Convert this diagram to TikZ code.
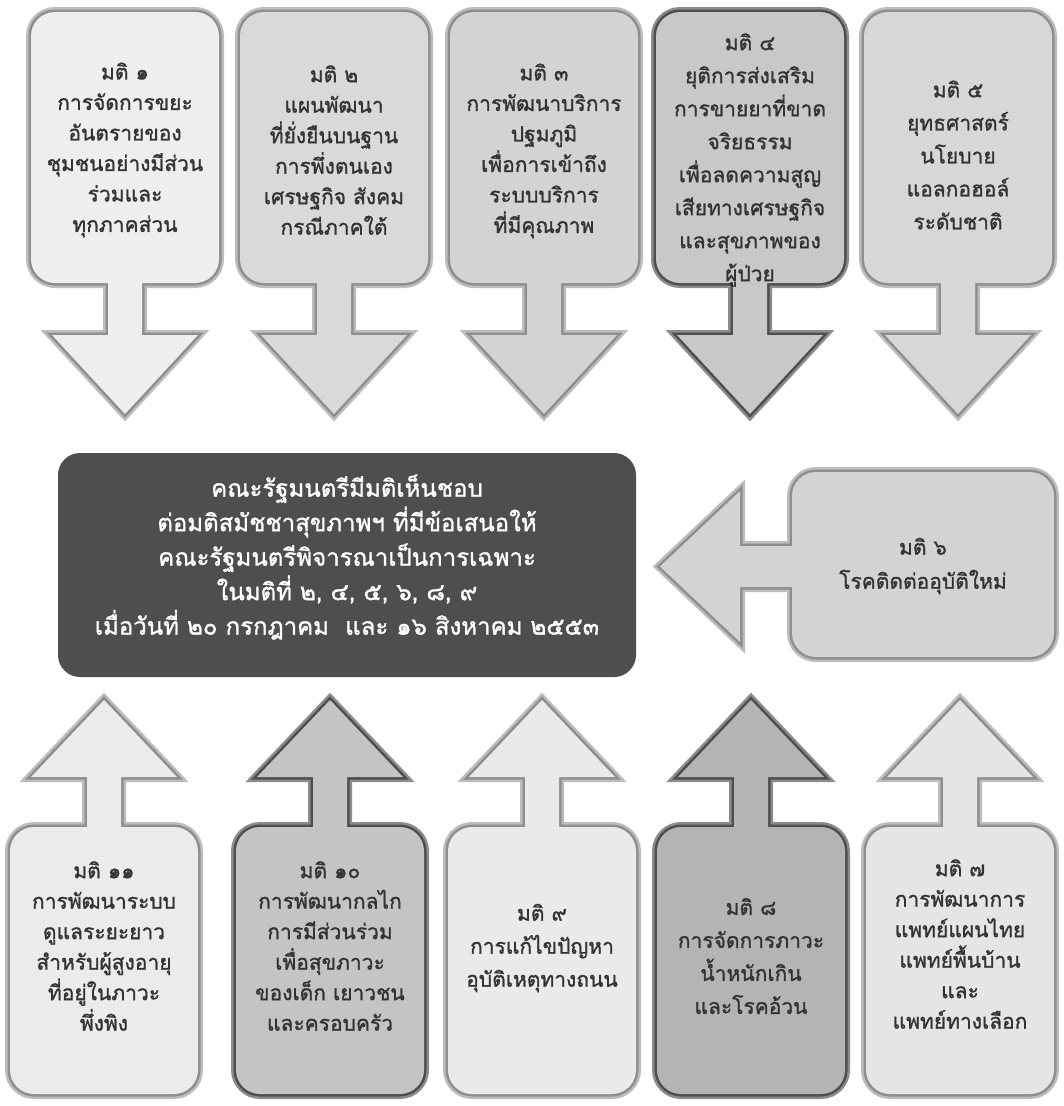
\documentclass[tikz,border=0pt]{standalone}
\usepackage{fontspec}
\newfontfamily\thaifont[Script=Thai,FakeBold=1.2]{Loma}
\definecolor{bOut}{HTML}{BDBDBD}
\definecolor{bIn}{HTML}{8E8E8E}
\definecolor{dOut}{HTML}{8C8C8C}
\definecolor{dIn}{HTML}{4E4E4E}
\definecolor{fa}{HTML}{EEEEEE}
\definecolor{fb}{HTML}{D9D9D9}
\definecolor{fc}{HTML}{D3D3D3}
\definecolor{fd}{HTML}{C8C8C8}
\definecolor{fe}{HTML}{D7D7D7}
\definecolor{ff}{HTML}{D3D3D3}
\definecolor{fk}{HTML}{EBEBEB}
\definecolor{fj}{HTML}{C4C4C4}
\definecolor{fi}{HTML}{EAEAEA}
\definecolor{fh}{HTML}{B4B4B4}
\definecolor{fg}{HTML}{E5E5E5}
\definecolor{darkbox}{HTML}{4E4E4E}
\definecolor{txtcol}{HTML}{333333}
% down callout: #1 = centre x, #2 = path options
\newcommand\downpath[2]{\path[#2] ({#1-70},12) -- ({#1+70},12)
 .. controls ({#1+83.25},12) and ({#1+94},22.75) .. ({#1+94},36)
 -- ({#1+94},259) .. controls ({#1+94},272.25) and ({#1+83.25},283) .. ({#1+70},283)
 -- ({#1+17},283) -- ({#1+17},335) -- ({#1+73},335) -- (#1,414)
 -- ({#1-73},335) -- ({#1-17},335) -- ({#1-17},283) -- ({#1-70},283)
 .. controls ({#1-83.25},283) and ({#1-94},272.25) .. ({#1-94},259)
 -- ({#1-94},36) .. controls ({#1-94},22.75) and ({#1-83.25},12) .. ({#1-70},12) -- cycle;}
% up callout
\newcommand\uppath[2]{\path[#2] ({#1-70},1094) -- ({#1+70},1094)
 .. controls ({#1+83.25},1094) and ({#1+94},1083.25) .. ({#1+94},1070)
 -- ({#1+94},851) .. controls ({#1+94},837.75) and ({#1+83.25},827) .. ({#1+70},827)
 -- ({#1+17},827) -- ({#1+17},777) -- ({#1+73},777) -- (#1,700)
 -- ({#1-73},777) -- ({#1-17},777) -- ({#1-17},827) -- ({#1-70},827)
 .. controls ({#1-83.25},827) and ({#1-94},837.75) .. ({#1-94},851)
 -- ({#1-94},1070) .. controls ({#1-94},1083.25) and ({#1-83.25},1094) .. ({#1-70},1094) -- cycle;}
% left callout (box 6)
\newcommand\leftpath[1]{\path[#1] (816,472) -- (1030,472)
 .. controls (1043.25,472) and (1054,482.75) .. (1054,496)
 -- (1054,633) .. controls (1054,646.25) and (1043.25,657) .. (1030,657)
 -- (816,657) .. controls (802.75,657) and (792,646.25) .. (792,633)
 -- (792,587) -- (740,587) -- (740,642) -- (660,566.5) -- (740,491) -- (740,546)
 -- (792,546) -- (792,496) .. controls (792,482.75) and (802.75,472) .. (816,472) -- cycle;}
\newcommand\downcall[3]{\downpath{#1}{draw=#3Out,line width=10pt}\downpath{#1}{draw=#3In,line width=5pt}\downpath{#1}{fill=#2}}
\newcommand\upcall[3]{\uppath{#1}{draw=#3Out,line width=10pt}\uppath{#1}{draw=#3In,line width=5pt}\uppath{#1}{fill=#2}}
\tikzset{
  txt/.style={align=center,text=txtcol,inner sep=0pt,font=\thaifont\fontsize{21}{30.5}\selectfont},
  txtmid/.style={txt,font=\thaifont\fontsize{21}{33}\selectfont},
  txtwide/.style={txt,font=\thaifont\fontsize{21}{34}\selectfont},
  centretxt/.style={align=center,text=white,inner sep=0pt,font=\thaifont\fontsize{24}{34.5}\selectfont}
}
\begin{document}
\begin{tikzpicture}[x=1pt,y=-1pt]
\useasboundingbox[fill=white] (0,0) rectangle (1064,1106);
% top row
\downcall{125}{fa}{b}
\downcall{334}{fb}{b}
\downcall{544}{fc}{b}
\downcall{750}{fd}{d}
\downcall{958}{fe}{b}
% bottom row
\upcall{104}{fk}{b}
\upcall{330}{fj}{d}
\upcall{542}{fi}{b}
\upcall{751}{fh}{d}
\upcall{960}{fg}{b}
% left callout
\leftpath{draw=bOut,line width=10pt}
\leftpath{draw=bIn,line width=5pt}
\leftpath{fill=ff}
% central box
\fill[darkbox,rounded corners=22pt] (58,453) rectangle (636,677);
% texts
\node[txt] (m1) at (125,150) {มติ ๑\\การจัดการขยะ\\อันตรายของ\\ชุมชนอย่างมีส่วน\\ร่วมและ\\ทุกภาคส่วน};
\node[txt] (m2) at (334,150) {มติ ๒\\แผนพัฒนา\\ที่ยั่งยืนบนฐาน\\การพึ่งตนเอง\\เศรษฐกิจ สังคม\\กรณีภาคใต้};
\node[txt] (m3) at (544,151) {มติ ๓\\การพัฒนาบริการ\\ปฐมภูมิ\\เพื่อการเข้าถึง\\ระบบบริการ\\ที่มีคุณภาพ};
\node[txtmid] (m4) at (750,160) {มติ ๔\\ยุติการส่งเสริม\\การขายยาที่ขาด\\จริยธรรม\\เพื่อลดความสูญ\\เสียทางเศรษฐกิจ\\และสุขภาพของ\\ผู้ป่วย};
\node[txtmid] (m5) at (958,155) {มติ ๕\\ยุทธศาสตร์\\นโยบาย\\แอลกอฮอล์\\ระดับชาติ};
\node[centretxt] (cab) at (347,557) {คณะรัฐมนตรีมีมติเห็นชอบ\\ต่อมติสมัชชาสุขภาพฯ ที่มีข้อเสนอให้\\คณะรัฐมนตรีพิจารณาเป็นการเฉพาะ\\ในมติที่ ๒, ๔, ๕, ๖, ๘, ๙\\เมื่อวันที่ ๒๐ กรกฎาคม\ \ และ ๑๖ สิงหาคม ๒๕๕๓};
\node[txtwide] (m6) at (923,566) {มติ ๖\\โรคติดต่ออุบัติใหม่};
\node[txt] (m11) at (104,946) {มติ ๑๑\\การพัฒนาระบบ\\ดูแลระยะยาว\\สำหรับผู้สูงอายุ\\ที่อยู่ในภาวะ\\พึ่งพิง};
\node[txt] (m10) at (330,946) {มติ ๑๐\\การพัฒนากลไก\\การมีส่วนร่วม\\เพื่อสุขภาวะ\\ของเด็ก เยาวชน\\และครอบครัว};
\node[txtmid] (m9) at (542,948) {มติ ๙\\การแก้ไขปัญหา\\อุบัติเหตุทางถนน};
\node[txtmid] (m8) at (751,956) {มติ ๘\\การจัดการภาวะ\\น้ำหนักเกิน\\และโรคอ้วน};
\node[txt] (m7) at (960,944) {มติ ๗\\การพัฒนาการ\\แพทย์แผนไทย\\แพทย์พื้นบ้าน\\และ\\แพทย์ทางเลือก};
\end{tikzpicture}
\end{document}
